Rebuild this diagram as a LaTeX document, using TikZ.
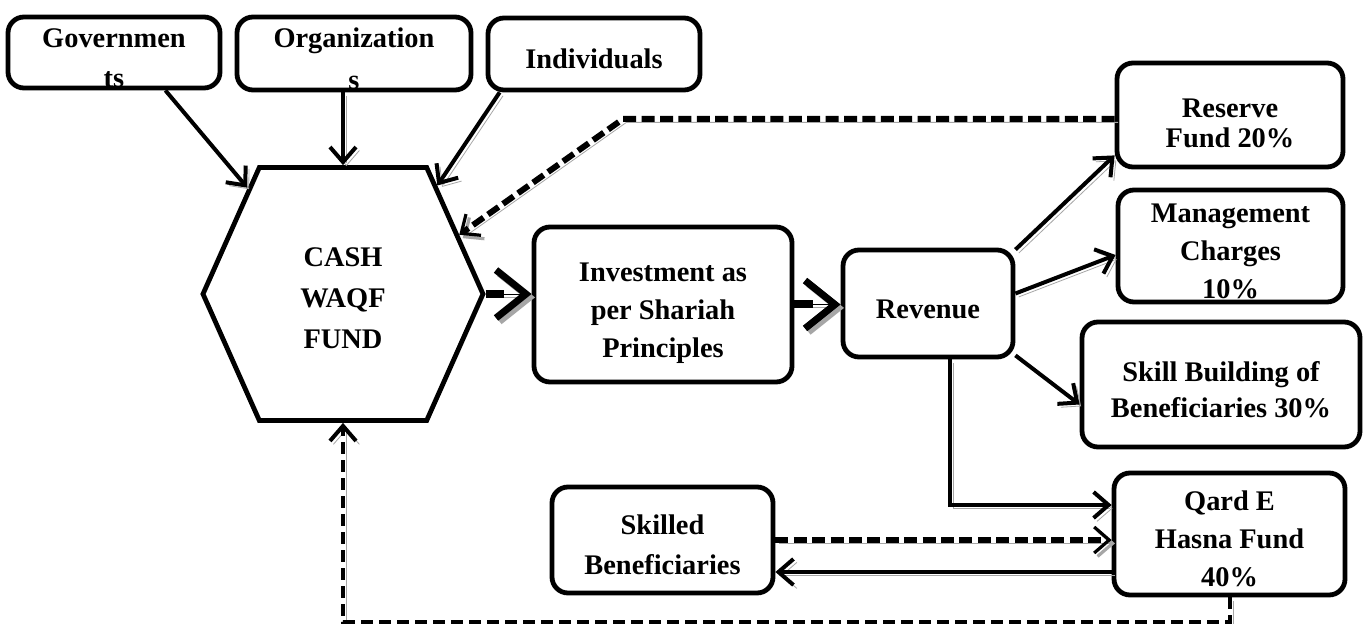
\documentclass[tikz,border=0pt]{standalone}
\usepackage{fontspec}
\setmainfont{Liberation Serif}
\usetikzlibrary{arrows.meta,shapes.symbols}
\newcommand{\fundcell}[7][]{\node[fund, #1, minimum width={(#5-#3)*0.5pt}, minimum height={(#6-#4)*0.5pt}] (#2) at ({(#3+#5)/2},{(#4+#6)/2}) {\rule{0pt}{15pt}#7};}
\tikzset{
  fund/.style={draw, line width=2.4pt, rounded corners=8pt, inner sep=0pt, align=center, font=\bfseries\fontsize{14.2}{19}\selectfont},
  hexfund/.style={signal, signal to=west and east, signal pointer angle=132, draw, line width=2.4pt, minimum width=140pt, minimum height=126.5pt, inner sep=0pt, align=center, font=\bfseries\fontsize{14.2}{20.5}\selectfont},
  shadowed/.style={preaction={draw=gray!70, transform canvas={xshift=1.7pt, yshift=-1.7pt}}},
  conn/.style={line width=2pt, -{Straight Barb[length=7.5pt,width=13pt]}, shadowed},
  dashconn/.style={line width=3pt, dash pattern=on 6.5pt off 2.7pt, -{Straight Barb[length=7.5pt,width=13pt,line width=1.6pt]}, shadowed},
  loopback/.style={line width=2pt, dash pattern=on 6pt off 3pt, -{Straight Barb[length=7.5pt,width=13pt]}, shadowed},
  bigarrow/.style={line width=0.05pt, -{Straight Barb[length=15pt,width=24pt,line width=3.5pt]}, shadowed, preaction={draw, line width=4pt, shorten >=14pt, arrows=-}}
}

\begin{document}
\begin{tikzpicture}[x=0.5pt, y=-0.5pt]
	\fill[white] (0,0) rectangle (1363,624);
	\useasboundingbox (0,0) rectangle (1363,624);

	% donors
	\fundcell{gov}{8}{17}{220}{88}{Governmen\\[1pt]ts}
	\fundcell{org}{237}{17}{471}{90}{Organization\\[2pt]s}
	\fundcell{ind}{488}{18}{700}{90}{Individuals}

	\node[hexfund] (cash) at (343,294) {\rule{0pt}{13.5pt}CASH\\WAQF\\FUND};

	\fundcell{inv}{534}{227}{792}{382}{\rule{0pt}{18pt}Investment as\\per Shariah\\Principles}
	\fundcell{rev}{843}{250}{1013}{357}{Revenue}

	% distribution of revenue
	\fundcell{res}{1117}{63}{1343}{167}{\rule{0pt}{18pt}Reserve\\[-4pt]Fund 20\%}
	\fundcell{mgmt}{1118}{190}{1343}{302}{Management\\Charges\\10\%}
	\fundcell{skill}{1082}{322}{1360}{447}{Skill Building of\\[-1pt]Beneficiaries 30\%}
	\fundcell{qard}{1114}{473}{1345}{595}{Qard E\\Hasna Fund\\40\%}
	\fundcell{skb}{552}{487}{773}{593}{Skilled\\[1pt]Beneficiaries}

	\draw[conn] ([xshift=-28.5pt]gov.south east) -- (cash.132);
	\draw[conn] (org.south -| cash.north) -- (cash.north);
	\draw[conn] ([xshift=7pt]ind.south west) -- (cash.49);

	\coordinate (bend) at (623,119);
	\draw[dashconn] ([yshift=-2pt]res.west) -- (bend) -- (cash.27);

	\draw[bigarrow] (cash.east) -- (cash.east -| inv.west);
	\draw[bigarrow] (inv.east) -- (inv.east -| rev.west);

	\draw[conn] ([yshift=-1pt]rev.north east) -- ([yshift=7pt]res.south west);
	\draw[conn] ([yshift=5pt]rev.east) -- ([yshift=-4.5pt]mgmt.west);
	\draw[conn] ([yshift=2pt]rev.south east) -- ([yshift=-10pt]skill.west);
	\draw[conn] ([xshift=11pt]rev.south) |- ([yshift=14.5pt]qard.west);

	% loan cycle
	\draw[dashconn] (skb.east) -- (skb.east -| qard.west);
	\coordinate (qout) at ([yshift=-19pt]qard.west);
	\draw[conn] (qout) -- (qout -| skb.east);
	\draw[loopback] (qard.south) -- ++(0,25) -| (cash.south);
\end{tikzpicture}
\end{document}
